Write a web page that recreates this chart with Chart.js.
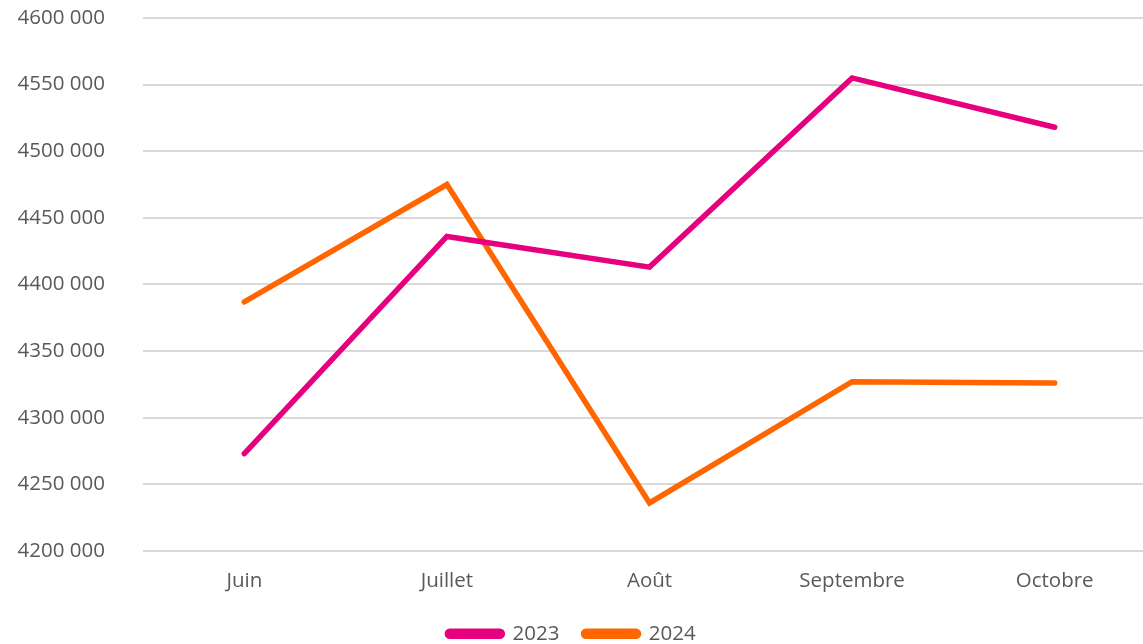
<!DOCTYPE html>
<html>
<head>
<meta charset="utf-8">
<script src="https://cdn.jsdelivr.net/npm/chart.js@4"></script>
<style>
  html, body { margin: 0; padding: 0; background: #fff; }
  #wrap { width: 1143px; height: 644px; }
</style>
</head>
<body>
<div id="wrap"><canvas id="salesChart"></canvas></div>
<script>
const months = ['Juin', 'Juillet', 'Août', 'Septembre', 'Octobre'];
const values2023 = [4273000, 4436000, 4413000, 4555000, 4518000];
const values2024 = [4387000, 4475000, 4236000, 4327000, 4326000];

// "4600 000" style: only the last group separated
function formatThousands(v){
    const k = Math.floor(v / 1000);
    const r = String(v % 1000).padStart(3, '0');
    return k + ' ' + r;
}

const labelFont = { family: 'Open Sans', size: 20.5 };

// the category band runs a little past the right edge of the canvas
const widenX = {
    id: 'widenX',
    afterLayout(chart){
        const x = chart.scales.x;
        x.right += 13;
        x.width += 13;
        x.configure();
    }
};

const ctx = document.getElementById('salesChart').getContext('2d');
new Chart(ctx, {
    type: 'line',
    data: {
        labels: months,
        datasets: [
            { label: '2023', data: values2023, borderColor: '#E6007E', backgroundColor: '#E6007E', borderWidth: 5.5, pointRadius: 0, borderCapStyle: 'round', borderJoinStyle: 'miter', tension: 0 },
            { label: '2024', data: values2024, borderColor: '#FF6600', backgroundColor: '#FF6600', borderWidth: 5.5, pointRadius: 0, borderCapStyle: 'round', borderJoinStyle: 'miter', tension: 0 }
        ]
    },
    plugins: [widenX],
    options: {
        responsive: true,
        maintainAspectRatio: false,
        animation: false,
        layout: { padding: { top: 0, left: 0, right: 0, bottom: -10 } },
        plugins: {
            tooltip: { enabled: false },
            legend: {
                position: 'bottom',
                labels: {
                    color: '#595959',
                    font: labelFont,
                    boxWidth: 55,
                    boxHeight: 5,
                    useBorderRadius: true,
                    borderRadius: 2.5,
                    padding: 24
                }
            }
        },
        scales: {
            x: {
                offset: true,
                grid: { display: false },
                border: { display: false },
                afterFit: axis => { axis.height -= 4; },
                ticks: { color: '#595959', font: labelFont, padding: 10, maxRotation: 0 }
            },
            y: {
                min: 4200000,
                max: 4600000,
                grid: { color: '#D9D9D9', lineWidth: 2, drawTicks: false },
                border: { display: false },
                afterFit: axis => { axis.width = 143; axis.paddingTop = 18; axis.paddingBottom = 10; },
                ticks: {
                    stepSize: 50000,
                    color: '#595959',
                    font: labelFont,
                    padding: 38,
                    callback: v => formatThousands(v)
                }
            }
        }
    }
});
</script>
</body>
</html>
